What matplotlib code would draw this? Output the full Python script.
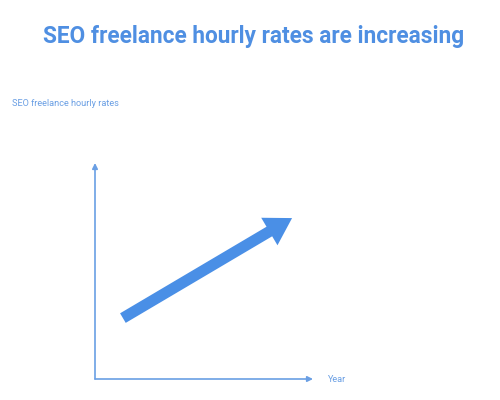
import matplotlib.pyplot as plt
from matplotlib.patches import FancyArrowPatch

plt.rcParams['font.family'] = ['Roboto', 'DejaVu Sans']

title = 'SEO freelance hourly rates are increasing'
y_name = 'SEO freelance hourly rates'
x_name = 'Year'

# trend arrow, start and end (axis units 0..10)
trend_x = [1.28, 9.04]
trend_y = [2.82, 7.45]

blue = '#4a8fe6'
light = '#6a9fe4'

fig = plt.figure(figsize=(5, 4), dpi=100)
fig.text(0.508, 0.91, title, ha='center', va='center', fontsize=16.3,
         fontweight='bold', color='#4f8fe2')
fig.text(0.024, 0.742, y_name, ha='left', va='center', fontsize=6.6, color=light)

ax = fig.add_axes([0.19, 0.0525, 0.436, 0.54])
ax.set_xlim(0, 10)
ax.set_ylim(0, 10)
ax.axis('off')

# axes drawn as arrows
ax.annotate('', xy=(0, 1.0), xytext=(0, 0), xycoords='axes fraction',
            arrowprops=dict(arrowstyle='-|>', color=light, lw=1.2,
                            mutation_scale=8, shrinkA=0, shrinkB=0))
ax.annotate('', xy=(1.0, 0), xytext=(0, 0), xycoords='axes fraction',
            arrowprops=dict(arrowstyle='-|>', color=light, lw=1.2,
                            mutation_scale=8, shrinkA=0, shrinkB=0))
ax.text(1.07, 0, x_name, transform=ax.transAxes, ha='left', va='center',
        fontsize=6.6, color=light)

arr = FancyArrowPatch((trend_x[0], trend_y[0]), (trend_x[1], trend_y[1]),
                      arrowstyle='simple,head_length=19,head_width=23,tail_width=8',
                      mutation_scale=1, color=blue, lw=0, shrinkA=0, shrinkB=0)
ax.add_patch(arr)

fig.savefig('out.png', dpi=100)
